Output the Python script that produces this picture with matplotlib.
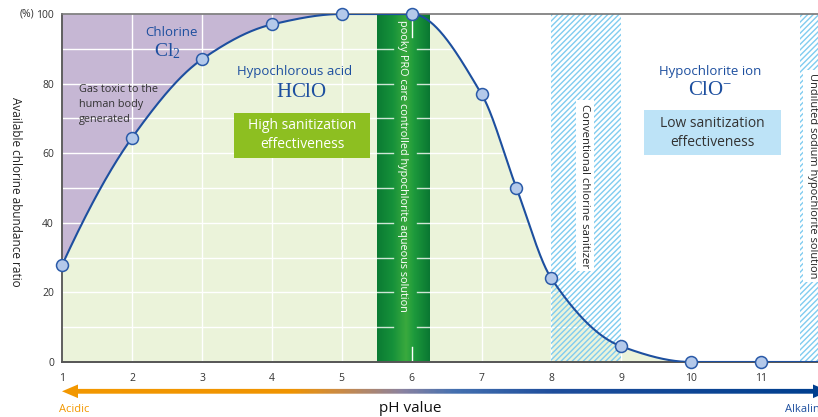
import numpy as np
import matplotlib
matplotlib.use("Agg")
import matplotlib.pyplot as plt
from matplotlib.colors import LinearSegmentedColormap
from matplotlib.patches import Rectangle, Polygon

plt.rcParams['font.family'] = ['Open Sans', 'DejaVu Sans']
plt.rcParams['mathtext.fontset'] = 'custom'
plt.rcParams['mathtext.rm'] = 'Liberation Serif'
plt.rcParams['hatch.linewidth'] = 1.0

# ---- data ----
ph_values = [1, 2, 3, 4, 5, 6, 7, 7.5, 8, 9, 10, 11]
hclo_ratio = [28, 64.5, 87, 97, 100, 100, 77, 50, 24, 4.5, 0, 0]
x_ticks = [1, 2, 3, 4, 5, 6, 7, 8, 9, 10, 11]
y_ticks = [0, 20, 40, 60, 80, 100]
y_minor = [10, 30, 50, 70, 90]
pooky_band = (5.51, 6.26)
conventional_band = (8, 9)
undiluted_band = (11.555, 11.82)
chlorine_end = 5
x_max = 11.816

BLUE = '#1d4f9f'


def pchip(x, y, xs):
    x = np.asarray(x, float); y = np.asarray(y, float)
    h = np.diff(x); delta = np.diff(y) / h
    n = len(x); d = np.zeros(n)
    for k in range(1, n - 1):
        if delta[k - 1] * delta[k] > 0:
            w1 = 2 * h[k] + h[k - 1]; w2 = h[k] + 2 * h[k - 1]
            d[k] = (w1 + w2) / (w1 / delta[k - 1] + w2 / delta[k])
    def endd(h0, h1, d0, d1):
        v = ((2 * h0 + h1) * d0 - h0 * d1) / (h0 + h1)
        if np.sign(v) != np.sign(d0):
            v = 0
        elif np.sign(d0) != np.sign(d1) and abs(v) > abs(3 * d0):
            v = 3 * d0
        return v
    d[0] = endd(h[0], h[1], delta[0], delta[1])
    d[-1] = endd(h[-1], h[-2], delta[-1], delta[-2])
    out = np.empty_like(xs)
    for i, xv in enumerate(xs):
        k = min(max(np.searchsorted(x, xv) - 1, 0), n - 2)
        if xv > x[-1]:
            out[i] = y[-1]; continue
        t = (xv - x[k]) / h[k]
        h00 = 2 * t**3 - 3 * t**2 + 1; h10 = t**3 - 2 * t**2 + t
        h01 = -2 * t**3 + 3 * t**2; h11 = t**3 - t**2
        out[i] = h00 * y[k] + h10 * h[k] * d[k] + h01 * y[k + 1] + h11 * h[k] * d[k + 1]
    return out


fig = plt.figure(figsize=(8.18, 4.17), dpi=100)
ax = fig.add_axes([62.3 / 818, 1 - 362 / 417, 1 - 62.3 / 818, 348 / 417])
ax.set_xlim(ph_values[0], x_max)
ax.set_ylim(0, 100)

xs = np.linspace(ph_values[0], x_max, 1200)
ys = pchip(ph_values, hclo_ratio, xs)

# fills
ax.fill_between(xs, ys, 100, where=xs <= chlorine_end + 1e-9, color='#c6b7d4', lw=0, zorder=0.1)
ax.fill_between(xs, 0, ys, color='#ebf3da', lw=0, zorder=0.2)

# grid
for yv in y_ticks[1:-1] + y_minor:
    ax.axhline(yv, color='white', lw=1, zorder=0.5)
for xv in x_ticks[1:]:
    ax.axvline(xv, color='white', lw=1, zorder=0.5)

# hatched bands
for (a, b) in (conventional_band, undiluted_band):
    ax.add_patch(Rectangle((a, 0), b - a, 100, facecolor='none', edgecolor='#80ccf0',
                           hatch='//////', lw=0, zorder=0.8))

# pooky band gradient
gcm = LinearSegmentedColormap.from_list('g', [(0, '#0b7b33'), (0.3, '#16913a'), (0.55, '#3aaa3e'),
                                              (0.7, '#1d9a3c'), (1, '#0a7732')])
grad = np.linspace(0, 1, 200).reshape(1, -1)
ax.imshow(grad, cmap=gcm, extent=[pooky_band[0], pooky_band[1], 0, 100], aspect='auto',
          zorder=2, interpolation='bicubic')
ax.set_xlim(ph_values[0], x_max)
ax.set_ylim(0, 100)
for yv in y_ticks[1:-1] + y_minor:
    ax.plot([pooky_band[0], 5.73], [yv, yv], color='white', lw=1, alpha=0.8, zorder=2.1)
    ax.plot([6.08, pooky_band[1]], [yv, yv], color='white', lw=1, alpha=0.8, zorder=2.1)
ax.plot([6, 6], [93.5, 100], color='white', lw=1, zorder=2.1)
ax.plot([6, 6], [0, 4.3], color='white', lw=1, zorder=2.1)

# curve
ax.plot(xs, ys, color=BLUE, lw=1.5, zorder=3, solid_capstyle='butt')
ax.plot(ph_values, hclo_ratio, 'o', ms=8.6, mfc='#b4c9ea', mec='#2a5aa8', mew=1.1, zorder=4,
        clip_on=False)

# spines / ticks
ax.spines['right'].set_visible(False)
ax.spines['top'].set_color('#777777'); ax.spines['top'].set_linewidth(1.2)
ax.spines['left'].set_color('#444444'); ax.spines['left'].set_linewidth(1.2)
ax.spines['bottom'].set_color('#555555'); ax.spines['bottom'].set_linewidth(1.4)
ax.set_xticks(x_ticks)
ax.set_yticks(y_ticks)
ax.tick_params(length=0, labelsize=7.5, labelcolor='#333333')
ax.tick_params(axis='x', pad=8)
ax.tick_params(axis='y', pad=6)
ax.set_ylabel('Available chlorine abundance ratio', rotation=-90, fontsize=8.5,
              color='#222222', va='center')
ax.yaxis.set_label_coords(-0.062, 0.49)

ax.text(0.495, 100, '(%)', fontsize=7.5, color='#333333', ha='center', va='center', clip_on=False)

# annotations
ax.text(2.556, 94.8, 'Chlorine', color=BLUE, fontsize=9.5, ha='center', va='center', zorder=5)
ax.text(2.51, 89.3, r'$\mathrm{Cl_2}$', color=BLUE, fontsize=14, ha='center', va='center', zorder=5)
ax.text(1.24, 80.0, 'Gas toxic to the\nhuman body\ngenerated', color='#333333', fontsize=7.8,
        ha='left', va='top', linespacing=1.5, zorder=5)
ax.text(4.33, 83.6, 'Hypochlorous acid', color=BLUE, fontsize=9.5, ha='center', va='center', zorder=5)
ax.text(4.43, 77.8, r'$\mathrm{HClO}$', color=BLUE, fontsize=15, ha='center', va='center', zorder=5)
ax.add_patch(Rectangle((3.457, 58.6), 1.943, 13.0, facecolor='#8dbf21', lw=0, zorder=4.5))
ax.text(4.43, 65.2, 'High sanitization\neffectiveness', color='white', fontsize=10, ha='center',
        va='center', linespacing=1.3, zorder=5)
ax.text(10.28, 83.6, 'Hypochlorite ion', color=BLUE, fontsize=9.5, ha='center', va='center', zorder=5)
ax.text(10.28, 78.4, r'$\mathrm{ClO^{-}}$', color=BLUE, fontsize=15, ha='center', va='center', zorder=5)
ax.add_patch(Rectangle((9.32, 59.5), 1.96, 12.9, facecolor='#bde3f7', lw=0, zorder=4.5))
ax.text(10.30, 65.8, 'Low sanitization\neffectiveness', color='#333333', fontsize=10, ha='center',
        va='center', linespacing=1.3, zorder=5)
ax.text(5.866, 56.3, 'pooky PRO care controlled hypochlorite aqueous solution', color='white',
        fontsize=7.8, rotation=-90, ha='center', va='center', zorder=5)
ax.text(8.48, 50.6, 'Conventional chlorine sanitizer', color='#222222', fontsize=8.2, rotation=-90,
        ha='center', va='center', zorder=5,
        bbox=dict(facecolor='white', edgecolor='none', pad=2.5))
ax.text(11.735, 53.4, 'Undiluted sodium hypochlorite solution', color='#222222', fontsize=7.9,
        rotation=-90, ha='center', va='center', zorder=5,
        bbox=dict(facecolor='white', edgecolor='none', pad=2.5))

# bottom gradient arrow
oax = fig.add_axes([0, 0, 1, 1], zorder=-1)
oax.set_xlim(0, 818); oax.set_ylim(417, 0); oax.axis('off')
shaft_y, shaft_h = 391.3, 2.4
head_len, head_h = 16, 6.8
left_tip, right_tip = 62, 829
poly = Polygon([[left_tip, shaft_y], [left_tip + head_len, shaft_y - head_h],
                [left_tip + head_len, shaft_y - shaft_h], [right_tip - head_len, shaft_y - shaft_h],
                [right_tip - head_len, shaft_y - head_h], [right_tip, shaft_y],
                [right_tip - head_len, shaft_y + head_h], [right_tip - head_len, shaft_y + shaft_h],
                [left_tip + head_len, shaft_y + shaft_h], [left_tip + head_len, shaft_y + head_h]],
               closed=True, facecolor='none', edgecolor='none')
oax.add_patch(poly)
acm = LinearSegmentedColormap.from_list('a', [(0, '#f39800'), (0.3, '#f09400'), (0.37, '#c98a48'),
                                              (0.45, '#8a82a0'), (0.52, '#4470b0'),
                                              (0.65, '#1f4e9c'), (1, '#003f8f')])
im = oax.imshow(np.linspace(0, 1, 400).reshape(1, -1), cmap=acm, extent=[62, 818, 400, 383],
                aspect='auto', interpolation='bilinear')
im.set_clip_path(poly)
oax.set_xlim(0, 818); oax.set_ylim(417, 0)

fig.text(59 / 818, 1 - 409 / 417, 'Acidic', color='#f39800', fontsize=8, ha='left', va='center')
fig.text(410 / 818, 1 - 409 / 417, 'pH value', color='#111111', fontsize=11, ha='center', va='center')
fig.text(785 / 818, 1 - 409 / 417, 'Alkaline', color=BLUE, fontsize=8, ha='left', va='center')

fig.savefig('out.png', dpi=100)
